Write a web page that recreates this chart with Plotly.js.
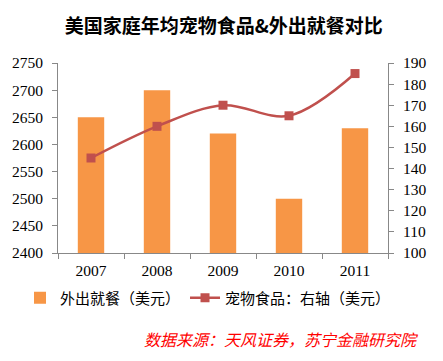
<!DOCTYPE html>
<html><head><meta charset="utf-8">
<script src="https://cdn.plot.ly/plotly-3.0.1.min.js"></script>
<style>body{margin:0;padding:0;background:#fff}#c{width:443px;height:361px}</style>
</head><body><div id="c"></div>
<script>
const years = ['2007','2008','2009','2010','2011'];
const diningOut = [2650, 2700, 2620, 2500, 2630];
const petFood = [145, 160, 170, 165, 185];
const leftTicks = [2400,2450,2500,2550,2600,2650,2700,2750];
const rightTicks = [100,110,120,130,140,150,160,170,180,190];

const serif = 'Liberation Serif, Times New Roman, serif';
const cjk = 'Noto Sans CJK SC, sans-serif';
const data = [
  {type:'bar', x:years, y:diningOut, name:'外出就餐（美元）', marker:{color:'#F79646'}, yaxis:'y'},
  {type:'scatter', mode:'lines+markers', x:years, y:petFood, name:'宠物食品：右轴（美元）', yaxis:'y2',
   line:{color:'#C0504D', width:2.5, shape:'spline', smoothing:1}, marker:{symbol:'square', size:9, color:'#C0504D'}}
];
const axisStyle = {showgrid:false, zeroline:false, showline:true, linecolor:'#888', linewidth:1, ticks:'outside', ticklen:5, tickcolor:'#888', tickfont:{family:serif, size:15.5, color:'#000'}};
const layout = {
  width:443, height:361, margin:{l:58, r:55, t:63, b:108},
  paper_bgcolor:'#fff', plot_bgcolor:'#fff',
  title:{text:'<b>美国家庭年均宠物食品&外出就餐对比</b>', font:{family:cjk, size:19, color:'#000'}, x:0.505, xanchor:'center', y:0.928, yanchor:'middle'},
  bargap:0.6,
  xaxis:Object.assign({}, axisStyle, {tickson:'boundaries', type:'category', ticklabelstandoff:3}),
  yaxis:Object.assign({}, axisStyle, {range:[2400,2750], tickvals:leftTicks, ticklabelstandoff:6}),
  yaxis2:Object.assign({}, axisStyle, {range:[100,190], tickvals:rightTicks, overlaying:'y', side:'right', ticklabelstandoff:6}),
  showlegend:true,
  legend:{orientation:'h', x:(20-58)/330, xanchor:'left', y:(253-298)/190, yanchor:'middle', font:{family:cjk, size:15, color:'#000'}, itemwidth:30, tracegroupgap:0, borderwidth:0},
  annotations:[{xref:'paper', yref:'paper', x:(421-58)/330, y:(253-339)/190, xanchor:'right', yanchor:'middle', showarrow:false,
    text:'<i>数据来源：天风证券，苏宁金融研究院</i>', font:{family:cjk, size:16, color:'#FF0000'}}]
};
Plotly.newPlot('c', data, layout, {displayModeBar:false, staticPlot:true});
</script></body></html>
